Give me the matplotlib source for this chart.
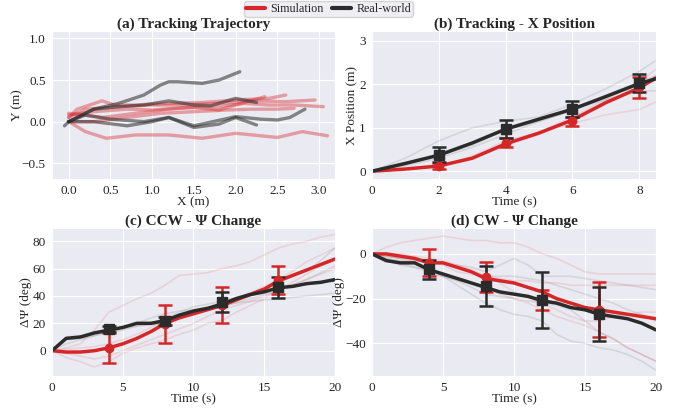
import numpy as np
import matplotlib
matplotlib.use("Agg")
import matplotlib.pyplot as plt
import seaborn as sns

sns.set_style("darkgrid")
plt.rcParams['font.family'] = ['Liberation Serif', 'DejaVu Serif']

RED = '#d62728'
DARK = '#2b2b2b'

# ---------------- (a) trayectorias ----------------
traj_real = [
    ([-0.05, 0.0, 0.3, 0.6, 0.9, 1.1, 1.2, 1.3, 1.6, 1.8, 2.05],
     [-0.05, 0.0, 0.15, 0.22, 0.32, 0.44, 0.48, 0.48, 0.46, 0.5, 0.6]),
    ([0.0, 0.3, 0.6, 0.9, 1.2, 1.5, 1.7, 2.0, 2.25],
     [0.0, 0.15, 0.18, 0.2, 0.25, 0.2, 0.19, 0.28, 0.23]),
    ([0.0, 0.3, 0.7, 1.0, 1.2, 1.5, 1.8, 2.0, 2.25],
     [0.0, 0.0, -0.05, 0.0, 0.05, -0.07, -0.03, 0.05, -0.04]),
    ([0.0, 0.2, 0.5, 0.9, 1.2, 1.5, 2.0, 2.3, 2.5, 2.65, 2.83],
     [0.0, 0.08, 0.03, 0.0, 0.05, -0.05, 0.06, 0.03, 0.02, 0.05, 0.15]),
]
traj_sim = [
    ([0.0, 0.2, 0.45, 0.8, 1.2, 1.6, 2.0, 2.2, 2.5, 2.8, 3.1],
     [0.0, -0.12, -0.2, -0.16, -0.16, -0.2, -0.14, -0.16, -0.19, -0.12, -0.17]),
    ([0.0, 0.1, 0.4, 0.55, 0.8, 1.2, 1.6, 2.0, 2.4, 2.6],
     [0.05, 0.15, 0.25, 0.2, 0.2, 0.22, 0.23, 0.26, 0.28, 0.32]),
    ([0.0, 0.2, 0.6, 1.0, 1.4, 1.8, 2.2, 2.6, 2.95],
     [0.05, 0.15, 0.18, 0.2, 0.2, 0.22, 0.25, 0.24, 0.26]),
    ([0.0, 0.3, 0.7, 1.0, 1.4, 1.8, 2.1, 2.4, 2.7, 3.05],
     [0.08, 0.12, 0.15, 0.14, 0.17, 0.18, 0.22, 0.2, 0.2, 0.18]),
    ([0.0, 0.3, 0.7, 1.1, 1.5, 1.9, 2.2, 2.5, 2.7],
     [0.0, 0.0, 0.05, 0.1, 0.12, 0.14, 0.15, 0.15, 0.16]),
    ([0.0, 0.4, 0.8, 1.2, 1.5, 1.8, 2.0, 2.35],
     [0.1, 0.05, 0.1, 0.15, 0.17, 0.14, 0.2, 0.3]),
]

# ---------------- (b) posicion X ----------------
t_b = [0, 1, 2, 3, 4, 5, 6, 7, 8, 8.5]
xpos_real = [0, 0.18, 0.37, 0.65, 0.97, 1.2, 1.43, 1.72, 2.02, 2.13]
xpos_sim = [0, 0.05, 0.12, 0.3, 0.63, 0.88, 1.18, 1.58, 1.92, 2.15]
xpos_real_trials = [
    [0, 0.3, 0.7, 1.0, 1.15, 1.25, 1.55, 1.9, 2.3, 2.55],
    [0, 0.15, 0.35, 0.6, 0.95, 1.15, 1.4, 1.65, 1.85, 1.85],
    [0, 0.12, 0.3, 0.55, 0.85, 1.15, 1.4, 1.75, 2.05, 2.2],
]
xpos_sim_trials = [
    [0, 0.04, 0.1, 0.35, 0.7, 0.9, 1.1, 1.3, 1.42, 1.6],
    [0, 0.06, 0.15, 0.3, 0.6, 0.9, 1.25, 1.65, 2.05, 2.35],
    [0, 0.05, 0.12, 0.28, 0.6, 0.85, 1.2, 1.6, 1.95, 2.2],
]
tm_b = [2, 4, 6, 8]
xm_real = [0.38, 0.97, 1.43, 2.04]
xe_real = [0.17, 0.2, 0.19, 0.21]
xm_sim = [0.11, 0.66, 1.15, 1.93]
xe_sim = [0.07, 0.11, 0.1, 0.25]

# ---------------- (c) CCW ----------------
t_c = list(range(0, 21))
ccw_real = [0, 9, 10, 13, 15, 17, 20, 20, 22, 26, 29, 31, 34, 38, 41, 43, 46, 47, 49, 50, 52]
ccw_sim = [0, -1, -1, 0, 2, 5, 9, 14, 20, 24, 27, 30, 33, 37, 41, 45, 51, 55, 59, 63, 67]
ccw_real_trials = [
    [0, 8, 9, 11, 14, 17, 20, 24, 27, 29, 30, 31, 33, 35, 36, 37, 38, 39, 40, 41, 42],
    [0, 10, 11, 12, 14, 16, 18, 20, 24, 28, 32, 34, 36, 39, 42, 46, 50, 54, 58, 66, 75],
    [0, 5, 8, 11, 13, 15, 18, 19, 20, 24, 27, 30, 32, 35, 38, 41, 44, 48, 52, 57, 62],
]
ccw_sim_trials = [
    [0, 2, 5, 15, 28, 33, 38, 42, 48, 55, 56, 57, 60, 62, 65, 70, 75, 78, 80, 83, 85],
    [0, -5, -8, -12, -8, -2, 2, 5, 8, 12, 15, 20, 22, 28, 33, 38, 45, 48, 52, 56, 60],
    [0, 1, 2, 3, 5, 8, 12, 17, 22, 25, 28, 31, 35, 38, 42, 47, 52, 58, 65, 70, 75],
    [0, -2, -4, -6, -4, 0, 4, 8, 12, 16, 20, 25, 30, 33, 36, 40, 44, 50, 56, 62, 68],
]
tm_cd = [4, 8, 12, 16]
cm_real = [15.7, 21.5, 35.5, 46.2]
ce_real = [2.0, 3.0, 7.4, 7.7]
cm_sim = [1.8, 19.5, 33.2, 51.5]
ce_sim = [11.0, 13.6, 13.0, 10.3]

# ---------------- (d) CW ----------------
cw_real = [0, -3, -4, -4, -7, -9, -11, -13, -15, -17, -18, -19, -21, -22, -24, -25, -27, -28, -29, -31, -34]
cw_sim = [0, 0, -1, -2, -4, -4, -6, -8, -11, -12, -13, -15, -17, -20, -22, -24, -25, -26, -27, -28, -29]
cw_real_trials = [
    [0, -3, -5, -6, -7, -10, -14, -18, -22, -25, -27, -28, -30, -36, -39, -40, -42, -43, -45, -48, -52],
    [0, -2, -3, -3, -4, -4, -5, -6, -8, -5, -2, -5, -10, -10, -10, -11, -12, -13, -14, -15, -16],
    [0, -2, -4, -6, -8, -10, -12, -15, -18, -19, -20, -21, -22, -23, -25, -30, -35, -38, -42, -45, -48],
    [0, -1, -2, -2, -3, -4, -6, -8, -10, -10, -10, -11, -12, -14, -16, -18, -20, -22, -25, -27, -30],
]
cw_sim_trials = [
    [0, 3, 5, 6, 7, 8, 7, 6, 6, 5, 5, 3, 0, -2, -5, -8, -9, -9, -9, -9, -9],
    [0, -1, -2, -2, -3, -5, -8, -9, -10, -11, -12, -12, -13, -13, -14, -14, -14, -14, -14, -14, -14],
    [0, -1, -2, -3, -8, -10, -12, -13, -15, -18, -20, -22, -25, -28, -30, -32, -35, -38, -42, -45, -48],
    [0, 0, 0, -1, -2, -3, -5, -7, -10, -13, -17, -20, -22, -25, -28, -30, -30, -28, -27, -26, -26],
]
dm_real = [-6.8, -14.5, -20.6, -26.7]
de_real = [4.2, 8.9, 12.7, 12.1]
dm_sim = [-3.9, -10.3, -20.6, -24.9]
de_sim = [6.0, 6.7, 4.5, 12.4]

fig = plt.figure(figsize=(6.86, 4.09), dpi=100)
ax_a = fig.add_axes([0.0758, 0.5623, 0.4125, 0.3619])
ax_b = fig.add_axes([0.5423, 0.5623, 0.414, 0.3619])
ax_c = fig.add_axes([0.0758, 0.0807, 0.4125, 0.3619])
ax_d = fig.add_axes([0.5423, 0.0807, 0.414, 0.3619])

title_kw = dict(fontsize=11, fontweight='bold', pad=2)
eb_kw = dict(capsize=5, elinewidth=1.8, capthick=1.8)
LAB = 9.5

# (a)
for xs, ys in traj_sim:
    ax_a.plot(xs, ys, color=RED, alpha=0.4, lw=2.4)
for xs, ys in traj_real:
    ax_a.plot(xs, ys, color=DARK, alpha=0.55, lw=2.4)
ax_a.set_xlim(-0.2, 3.19)
ax_a.set_ylim(-0.69, 1.09)
ax_a.set_xticks([0, 0.5, 1.0, 1.5, 2.0, 2.5, 3.0])
ax_a.set_xticklabels(['0.0', '0.5', '1.0', '1.5', '2.0', '2.5', '3.0'])
ax_a.set_yticks([-0.5, 0.0, 0.5, 1.0])
ax_a.set_yticklabels(['\u22120.5', '0.0', '0.5', '1.0'])
ax_a.set_title('(a) Tracking Trajectory', **title_kw)
ax_a.set_xlabel('X (m)', fontsize=LAB)
ax_a.set_ylabel('Y (m)', fontsize=LAB)

# (b)
for tr in xpos_real_trials:
    ax_b.plot(t_b, tr, color='grey', alpha=0.2, lw=1.2)
for tr in xpos_sim_trials:
    ax_b.plot(t_b, tr, color=RED, alpha=0.12, lw=1.2)
ax_b.plot(t_b, xpos_sim, color=RED, lw=2.5)
ax_b.plot(t_b, xpos_real, color=DARK, lw=2.5)
ax_b.errorbar(tm_b, xm_sim, yerr=xe_sim, fmt='o', color=RED, ms=6, **eb_kw)
ax_b.errorbar(tm_b, xm_real, yerr=xe_real, fmt='s', color=DARK, ms=7, **eb_kw)
ax_b.set_xlim(0, 8.5)
ax_b.set_ylim(-0.18, 3.23)
ax_b.set_xticks([0, 2, 4, 6, 8])
ax_b.set_yticks([0, 1, 2, 3])
ax_b.set_title('(b) Tracking - X Position', **title_kw)
ax_b.set_xlabel('Time (s)', fontsize=LAB)
ax_b.set_ylabel('X Position (m)', fontsize=LAB)

# (c)
for tr in ccw_real_trials:
    ax_c.plot(t_c, tr, color='grey', alpha=0.2, lw=1.2)
for tr in ccw_sim_trials:
    ax_c.plot(t_c, tr, color=RED, alpha=0.12, lw=1.2)
ax_c.plot(t_c, ccw_sim, color=RED, lw=2.5)
ax_c.plot(t_c, ccw_real, color=DARK, lw=2.5)
ax_c.errorbar(tm_cd, cm_sim, yerr=ce_sim, fmt='o', color=RED, ms=6, **eb_kw)
ax_c.errorbar(tm_cd, cm_real, yerr=ce_real, fmt='s', color=DARK, ms=7, **eb_kw)
ax_c.set_xlim(0, 20)
ax_c.set_ylim(-18.5, 89.7)
ax_c.set_xticks([0, 5, 10, 15, 20])
ax_c.set_yticks([0, 20, 40, 60, 80])
ax_c.set_title('(c) CCW - \u03a8 Change', **title_kw)
ax_c.set_xlabel('Time (s)', fontsize=LAB)
ax_c.set_ylabel('\u0394\u03a8 (deg)', fontsize=LAB)

# (d)
for tr in cw_real_trials:
    ax_d.plot(t_c, tr, color='grey', alpha=0.2, lw=1.2)
for tr in cw_sim_trials:
    ax_d.plot(t_c, tr, color=RED, alpha=0.12, lw=1.2)
ax_d.plot(t_c, cw_sim, color=RED, lw=2.5)
ax_d.plot(t_c, cw_real, color=DARK, lw=2.5)
ax_d.errorbar(tm_cd, dm_sim, yerr=de_sim, fmt='o', color=RED, ms=6, **eb_kw)
ax_d.errorbar(tm_cd, dm_real, yerr=de_real, fmt='s', color=DARK, ms=7, **eb_kw)
ax_d.set_xlim(0, 20)
ax_d.set_ylim(-54.6, 11.6)
ax_d.set_xticks([0, 5, 10, 15, 20])
ax_d.set_yticks([-40, -20, 0])
ax_d.set_title('(d) CW - \u03a8 Change', **title_kw)
ax_d.set_xlabel('Time (s)', fontsize=LAB)
ax_d.set_ylabel('\u0394\u03a8 (deg)', fontsize=LAB)

# posiciones de las etiquetas (coordenadas de ejes)
ylab_x = {ax_a: -0.1, ax_b: -0.05, ax_c: -0.07, ax_d: -0.095}
for ax in [ax_a, ax_b, ax_c, ax_d]:
    ax.tick_params(labelsize=9.5, pad=1)
    ax.yaxis.set_label_coords(ylab_x[ax], 0.5)
    ax.xaxis.set_label_coords(0.5, -0.115)

handles = [plt.Line2D([], [], color=RED, lw=3), plt.Line2D([], [], color=DARK, lw=3)]
fig.legend(handles, ['Simulation', 'Real-world'], loc='upper center', bbox_to_anchor=(0.479, 1.0),
           ncol=2, fontsize=8.7, frameon=True, handlelength=1.6, borderpad=0.15, columnspacing=0.7,
           handletextpad=0.4, borderaxespad=0.1)

plt.savefig('out.png', dpi=100)
